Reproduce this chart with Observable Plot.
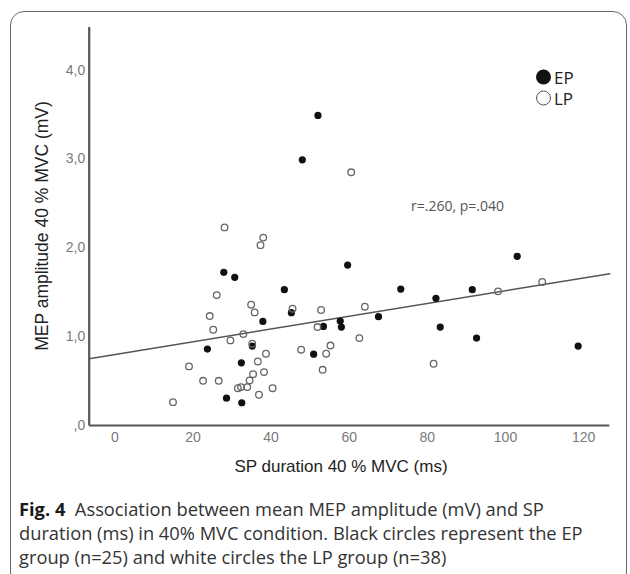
<!DOCTYPE html>
<html>
<head>
<meta charset="utf-8">
<script src="https://cdn.jsdelivr.net/npm/d3@7"></script>
<script src="https://cdn.jsdelivr.net/npm/@observablehq/plot@0.6"></script>
<style>
  html, body { margin: 0; padding: 0; background: #fff; }
  #fig { position: relative; width: 630px; height: 574px; overflow: hidden; background: #fff; }
  #border { position: absolute; left: 10px; top: 11px; width: 617px; height: 575px; border: 1.5px solid #666; border-radius: 14px; box-sizing: border-box; }
  #chart { position: absolute; left: 0; top: 0; }
  #chart g[aria-label^="x-axis"] text, #chart g[aria-label^="y-axis"] text { fill: #7a7a7a; }
  .ytitle { position: absolute; left: 43px; top: 226px; transform: translate(-50%, -50%) rotate(-90deg); white-space: nowrap; font-family: "Liberation Sans", Arial, sans-serif; font-size: 17.5px; color: #222; line-height: 1; }
  .xtitle { position: absolute; left: 341px; top: 466px; transform: translate(-50%, -50%); white-space: nowrap; font-family: "Liberation Sans", Arial, sans-serif; font-size: 17px; color: #222; line-height: 1; }
  .annot { position: absolute; left: 411px; top: 206px; transform: translateY(-50%); white-space: nowrap; font-family: "Open Sans", sans-serif; font-size: 14px; color: #555; line-height: 1; }
  .legend { position: absolute; left: 536px; font-family: "Open Sans", sans-serif; font-size: 17px; line-height: 1; color: #222; display: flex; align-items: center; transform: translateY(-50%); }
  .legend .sw { width: 15px; height: 15px; border-radius: 50%; box-sizing: border-box; margin-right: 3px; }
  .caption { position: absolute; left: 19px; top: 497px; width: 605px; font-family: "Open Sans", sans-serif; font-size: 18.3px; line-height: 24px; color: #333; white-space: nowrap; }
  .caption b { color: #1a1a1a; }
</style>
</head>
<body>
<div id="fig">
  <div id="border"></div>
  <div id="chart"></div>
  <div class="ytitle">MEP amplitude 40 % MVC (mV)</div>
  <div class="xtitle">SP duration 40 % MVC (ms)</div>
  <div class="annot">r=.260, p=.040</div>
  <div class="legend" style="top:77px"><div class="sw" style="background:#111"></div>EP</div>
  <div class="legend" style="top:98px"><div class="sw" style="border:1.4px solid #555"></div>LP</div>
  <div class="caption"><b>Fig. 4</b>&nbsp; Association between mean MEP amplitude (mV) and SP<br>duration (ms) in 40% MVC condition. Black circles represent the EP<br>group (n=25) and white circles the LP group (n=38)</div>
</div>
<script>
// EP group (black circles): SP duration (ms), MEP amplitude (mV)
const epX = [27.9, 30.7, 43.4, 45.2, 37.9, 35.2, 23.7, 50.9, 32.4, 28.6, 32.5, 53.4, 57.7, 58.0, 59.6, 73.2, 67.5, 82.2, 83.3, 91.5, 92.6, 103.0, 118.6, 52.0, 48.0];
const epY = [1.724, 1.668, 1.529, 1.27, 1.172, 0.894, 0.86, 0.803, 0.706, 0.308, 0.256, 1.115, 1.175, 1.108, 1.806, 1.536, 1.225, 1.431, 1.108, 1.529, 0.984, 1.904, 0.894, 3.49, 2.99];
// LP group (white circles)
const lpX = [28.1, 38.0, 37.3, 26.1, 34.9, 35.8, 24.3, 45.5, 25.2, 32.9, 29.6, 35.2, 47.7, 38.7, 19.0, 36.6, 22.6, 26.6, 35.4, 38.2, 34.5, 31.5, 32.3, 33.9, 36.9, 40.4, 14.9, 52.8, 51.9, 54.1, 55.2, 53.2, 64.0, 62.6, 81.6, 98.1, 109.4, 60.5];
const lpY = [2.23, 2.115, 2.03, 1.468, 1.36, 1.273, 1.232, 1.315, 1.078, 1.029, 0.958, 0.92, 0.853, 0.808, 0.665, 0.721, 0.503, 0.503, 0.578, 0.601, 0.507, 0.42, 0.432, 0.432, 0.346, 0.42, 0.263, 1.30, 1.108, 0.808, 0.90, 0.627, 1.337, 0.984, 0.695, 1.51, 1.615, 2.85];
// Fit line
const fitIntercept = 0.798;
const fitSlope = 0.00719;
const xTicks = [0, 20, 40, 60, 80, 100, 120];
const yTicks = [0, 1, 2, 3, 4];
const xDomain = [-6.55, 126.7];
const yDomain = [0, 4.48];

const ep = epX.map((x, i) => ({x, y: epY[i]}));
const lp = lpX.map((x, i) => ({x, y: lpY[i]}));
const fit = xDomain.map(x => ({x, y: fitIntercept + fitSlope * x}));

const chart = Plot.plot({
  width: 630,
  height: 480,
  marginLeft: 88.7,
  marginRight: 20.7,
  marginTop: 27,
  marginBottom: 55,
  style: {fontFamily: "'Liberation Sans', Arial, sans-serif", fontSize: "14px", background: "transparent", overflow: "visible"},
  x: {domain: xDomain, ticks: xTicks, tickSize: 0, tickPadding: 7, label: null},
  y: {domain: yDomain, ticks: yTicks, tickSize: 0, tickPadding: 4, label: null,
      tickFormat: d => d === 0 ? ",0" : d.toFixed(1).replace(".", ",")},
  marks: [
    Plot.line(fit, {x: "x", y: "y", stroke: "#555", strokeWidth: 1.5}),
    Plot.dot(ep, {x: "x", y: "y", r: 3.6, fill: "#111", stroke: "none"}),
    Plot.dot(lp, {x: "x", y: "y", r: 3.3, fill: "none", stroke: "#666", strokeWidth: 1.3}),
    Plot.ruleX([xDomain[0]], {stroke: "#555", strokeWidth: 2.2}),
    Plot.ruleY([yDomain[0]], {stroke: "#555", strokeWidth: 2.2})
  ]
});
document.getElementById("chart").appendChild(chart);
</script>
</body>
</html>
